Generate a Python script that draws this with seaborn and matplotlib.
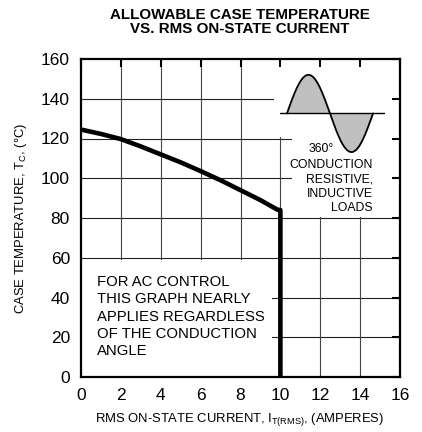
import numpy as np
import pandas as pd
import matplotlib
matplotlib.use("Agg")
import matplotlib.pyplot as plt
from matplotlib.patches import Rectangle, Polygon
import seaborn as sns

# derating curve
current = [0, 1, 2, 3, 4, 5, 6, 7, 8, 9, 9.85, 10, 10]
case_temp = [124.5, 122.3, 119.7, 116, 112, 108, 103.6, 99, 94, 89, 84.2, 84, 0]

x_ticks = [0, 2, 4, 6, 8, 10, 12, 14, 16]
y_ticks = [0, 20, 40, 60, 80, 100, 120, 140, 160]

df = pd.DataFrame({"current": current, "temp": case_temp})

sns.set_style("white")
plt.rcParams["font.family"] = ["Liberation Sans", "DejaVu Sans"]
plt.rcParams["mathtext.fontset"] = "custom"
plt.rcParams["mathtext.rm"] = "Liberation Sans"
plt.rcParams["text.color"] = "black"
plt.rcParams["xtick.color"] = "black"
plt.rcParams["ytick.color"] = "black"
plt.rcParams["axes.labelcolor"] = "black"

fig = plt.figure(figsize=(4.22, 4.32), dpi=100)
ax = fig.add_axes([81 / 422, 1 - 377 / 432, 319 / 422, 318 / 432])

# grid drawn by hand so the white masks can cover it but not the ticks
ax.hlines(y_ticks[1:-1], 0, 16, color="#222222", lw=0.8, zorder=0.5)
ax.vlines(x_ticks[1:-1], 0, 160, color="#444444", lw=0.8, zorder=0.5)

# white areas behind the notes
ax.add_patch(Rectangle((0, 0), 9.6, 59, facecolor="white", edgecolor="none", zorder=1))
ax.add_patch(Polygon([(9.7, 160), (16, 160), (16, 80.6), (11.5, 80.6), (11.5, 99),
                      (10.6, 99), (10.6, 121), (9.7, 121)],
                     facecolor="white", edgecolor="none", zorder=1))

sns.lineplot(data=df, x="current", y="temp", sort=False, estimator=None,
             color="black", linewidth=3.3, ax=ax, zorder=3)

ax.set_xlim(0, 16)
ax.set_ylim(0, 160)
ax.set_xticks(x_ticks)
ax.set_yticks(y_ticks)
ax.set_xlabel("")
ax.set_ylabel("")
ax.set_axisbelow(False)
ax.tick_params(direction="in", length=6, width=1.5, labelsize=12.5, pad=8,
               top=True, right=True, color="black", labelcolor="black")
for s in ax.spines.values():
    s.set_linewidth(1.6)
    s.set_color("black")

# sine wave icon
ins = ax.inset_axes([9.98, 112.2, 5.27, 40.8], transform=ax.transData)
ph = np.linspace(0, 2 * np.pi, 200)
ins.fill_between(ph, np.sin(ph), 0, color="#c0c0c0", lw=0)
ins.plot(ph, np.sin(ph), color="black", lw=1.3)
ins.axhline(0, color="black", lw=1.0)
ins.set_xlim(-0.51, 2 * np.pi + 0.88)
ins.set_ylim(-1.05, 1.05)
ins.axis("off")

ax.text(12.04, 114.7, "360°", fontsize=8.8, ha="center", va="center", zorder=4)
ax.text(14.64, 95.8, "CONDUCTION\nRESISTIVE,\nINDUCTIVE\nLOADS", fontsize=8.8,
        ha="right", va="center", multialignment="right", linespacing=1.24, zorder=4)

ax.text(0.8, 30.4, "FOR AC CONTROL\nTHIS GRAPH NEARLY\nAPPLIES REGARDLESS\nOF THE CONDUCTION\nANGLE",
        fontsize=10.7, ha="left", va="center", linespacing=1.3, zorder=4)

fig.text(240 / 422, 1 - 22 / 432, "ALLOWABLE CASE TEMPERATURE\nVS. RMS ON-STATE CURRENT",
         fontsize=10.9, fontweight="bold", ha="center", va="center", linespacing=1.0)
fig.text(240 / 422, 1 - 420 / 432, r"RMS ON-STATE CURRENT, I$_{\mathrm{T(RMS)}}$, (AMPERES)",
         fontsize=9.35, ha="center", va="center")
fig.text(21.5 / 422, 1 - 218 / 432, r"CASE TEMPERATURE, T$_{\mathrm{C}}$, (°C)",
         fontsize=9.4, ha="center", va="center", rotation=90)

fig.savefig("out.png", dpi=100)
